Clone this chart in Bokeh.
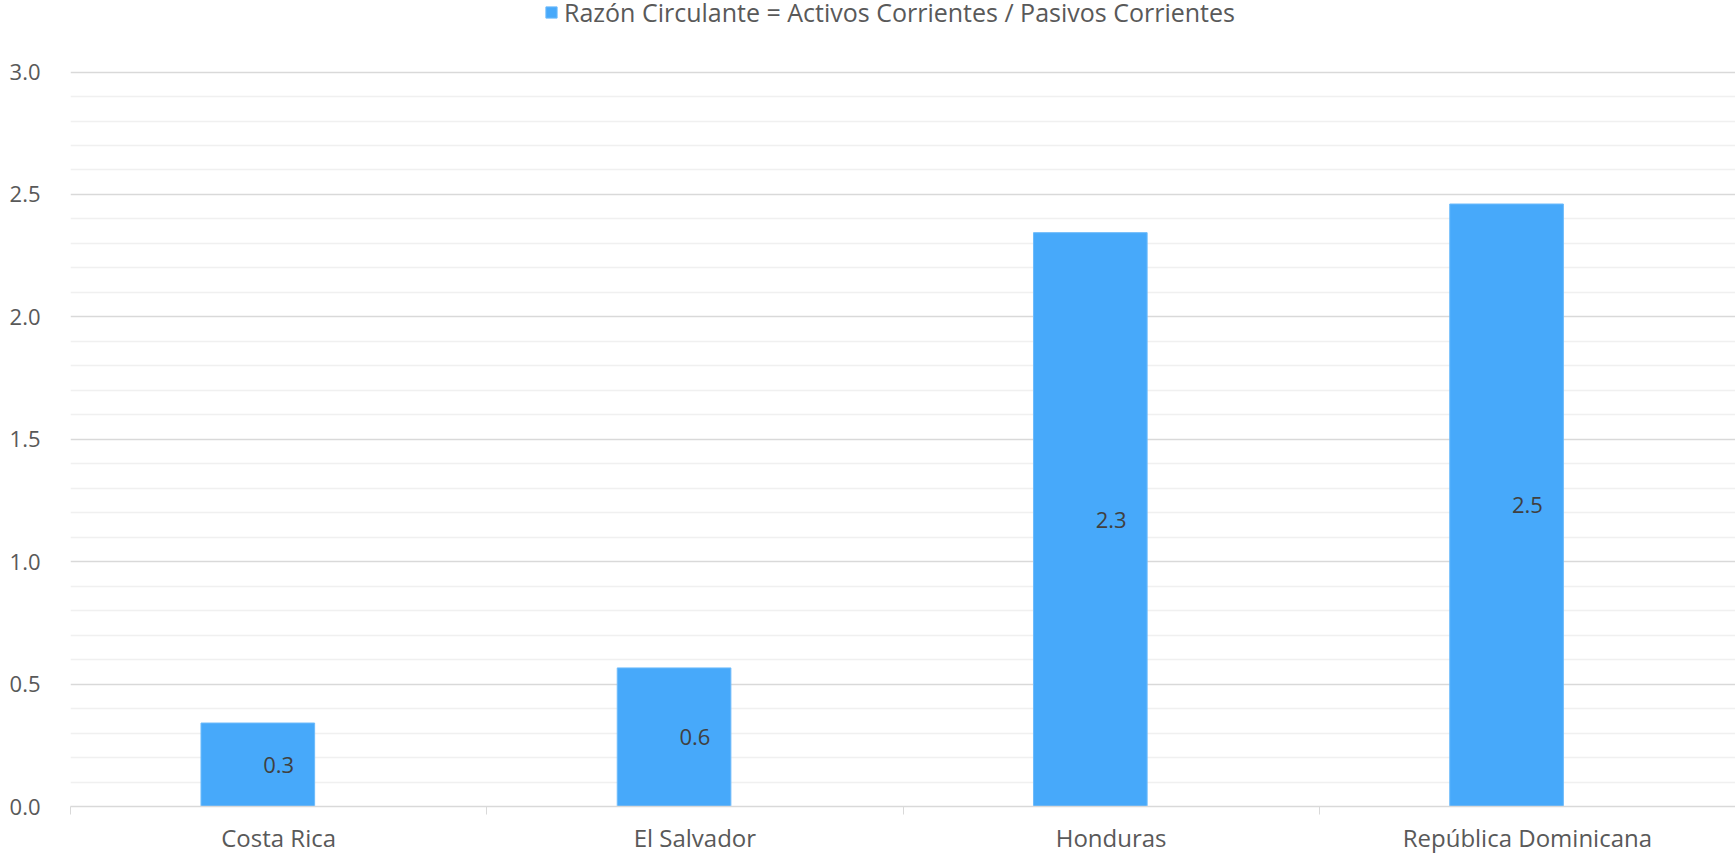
from bokeh.plotting import figure
from bokeh.models import (ColumnDataSource, FactorRange, Range1d, CategoricalAxis, LinearAxis,
                          FixedTicker, Legend, LegendItem, LabelSet, Grid, NumeralTickFormatter)
from bokeh.core.properties import value
from bokeh.transform import dodge
from bokeh.embed import file_html
from bokeh.resources import INLINE

categories = ["Costa Rica", "El Salvador", "Honduras", "República Dominicana"]
ratio = [0.341, 0.566, 2.344, 2.461]
series_name = "Razón Circulante = Activos Corrientes / Pasivos Corrientes"
y_ticks = [0.0, 0.5, 1.0, 1.5, 2.0, 2.5, 3.0]
y_minor_ticks = [round(t + k * 0.1, 1) for t in y_ticks[:-1] for k in range(1, 5)]

FONT = "Open Sans"
TXT = "#595959"

src = ColumnDataSource(dict(
    cat=categories,
    val=ratio,
    half=[v / 2 for v in ratio],
    lab=[f"{v:.1f}" for v in ratio],
))

# frame spans the full height above the axis; room above 3.0 holds the legend
Y_TOP = 3.0 * 811 / 739
p = figure(x_range=FactorRange(*categories), y_range=Range1d(0, Y_TOP),
           width=1735, height=856, output_backend="svg", toolbar_location=None,
           x_axis_location=None, y_axis_location=None,
           min_border_left=70, min_border_right=0, min_border_top=0, min_border_bottom=45)
p.outline_line_color = None
p.background_fill_color = "white"
p.border_fill_color = "white"

# boundary tick axis (nearest the frame): synthetic coordinates 0..4 of the factor range
bax = LinearAxis(ticker=FixedTicker(ticks=list(range(len(categories) + 1))))
bax.major_label_text_font_size = "0px"
bax.major_label_standoff = 0
bax.major_tick_out = 8
bax.major_tick_in = 0
bax.minor_tick_line_color = None
bax.axis_line_color = "#d9d9d9"
bax.major_tick_line_color = "#d9d9d9"
bax.axis_line_width = 1.5
p.add_layout(bax, "below")

cax = CategoricalAxis()
cax.axis_line_color = None
cax.major_tick_line_color = None
cax.major_label_standoff = 0
cax.major_label_text_font = FONT
cax.major_label_text_font_size = "24px"
cax.major_label_text_color = TXT
p.add_layout(cax, "below")

yticker = FixedTicker(ticks=y_ticks, minor_ticks=y_minor_ticks)
yax = LinearAxis(ticker=yticker, formatter=NumeralTickFormatter(format="0.0"))
yax.axis_line_color = None
yax.major_tick_line_color = None
yax.minor_tick_line_color = None
yax.major_label_standoff = 24
yax.major_label_text_font = FONT
yax.major_label_text_font_size = "22px"
yax.major_label_text_color = TXT
p.add_layout(yax, "left")

p.xgrid.grid_line_color = None
p.ygrid.grid_line_color = None
grid = Grid(dimension=1, ticker=yticker)
grid.grid_line_color = "#d9d9d9"
grid.grid_line_width = 1.5
grid.minor_grid_line_color = "#f0f0f0"
grid.minor_grid_line_width = 1.5
p.add_layout(grid, "center")

r = p.vbar(x=dodge("cat", -0.05, range=p.x_range), top="val", width=0.273, source=src,
           fill_color="#47a9fa", line_color="#6dbbfb", line_width=1)

labels = LabelSet(x="cat", y="half", text="lab", source=src, text_align="center",
                  text_baseline="middle", text_font=value(FONT), text_font_size=value("22px"),
                  text_color="#404040")
p.add_layout(labels)

legend = Legend(items=[LegendItem(label=series_name, renderers=[r])], orientation="horizontal",
                location=(474, 777), label_text_font=FONT, label_text_font_size="25px",
                label_text_color=TXT, glyph_width=14, glyph_height=14, label_standoff=6,
                border_line_color=None, background_fill_alpha=0, padding=0, margin=0,
                label_height=25)
p.add_layout(legend, "center")

open("out.html", "w").write(file_html(p, INLINE))
